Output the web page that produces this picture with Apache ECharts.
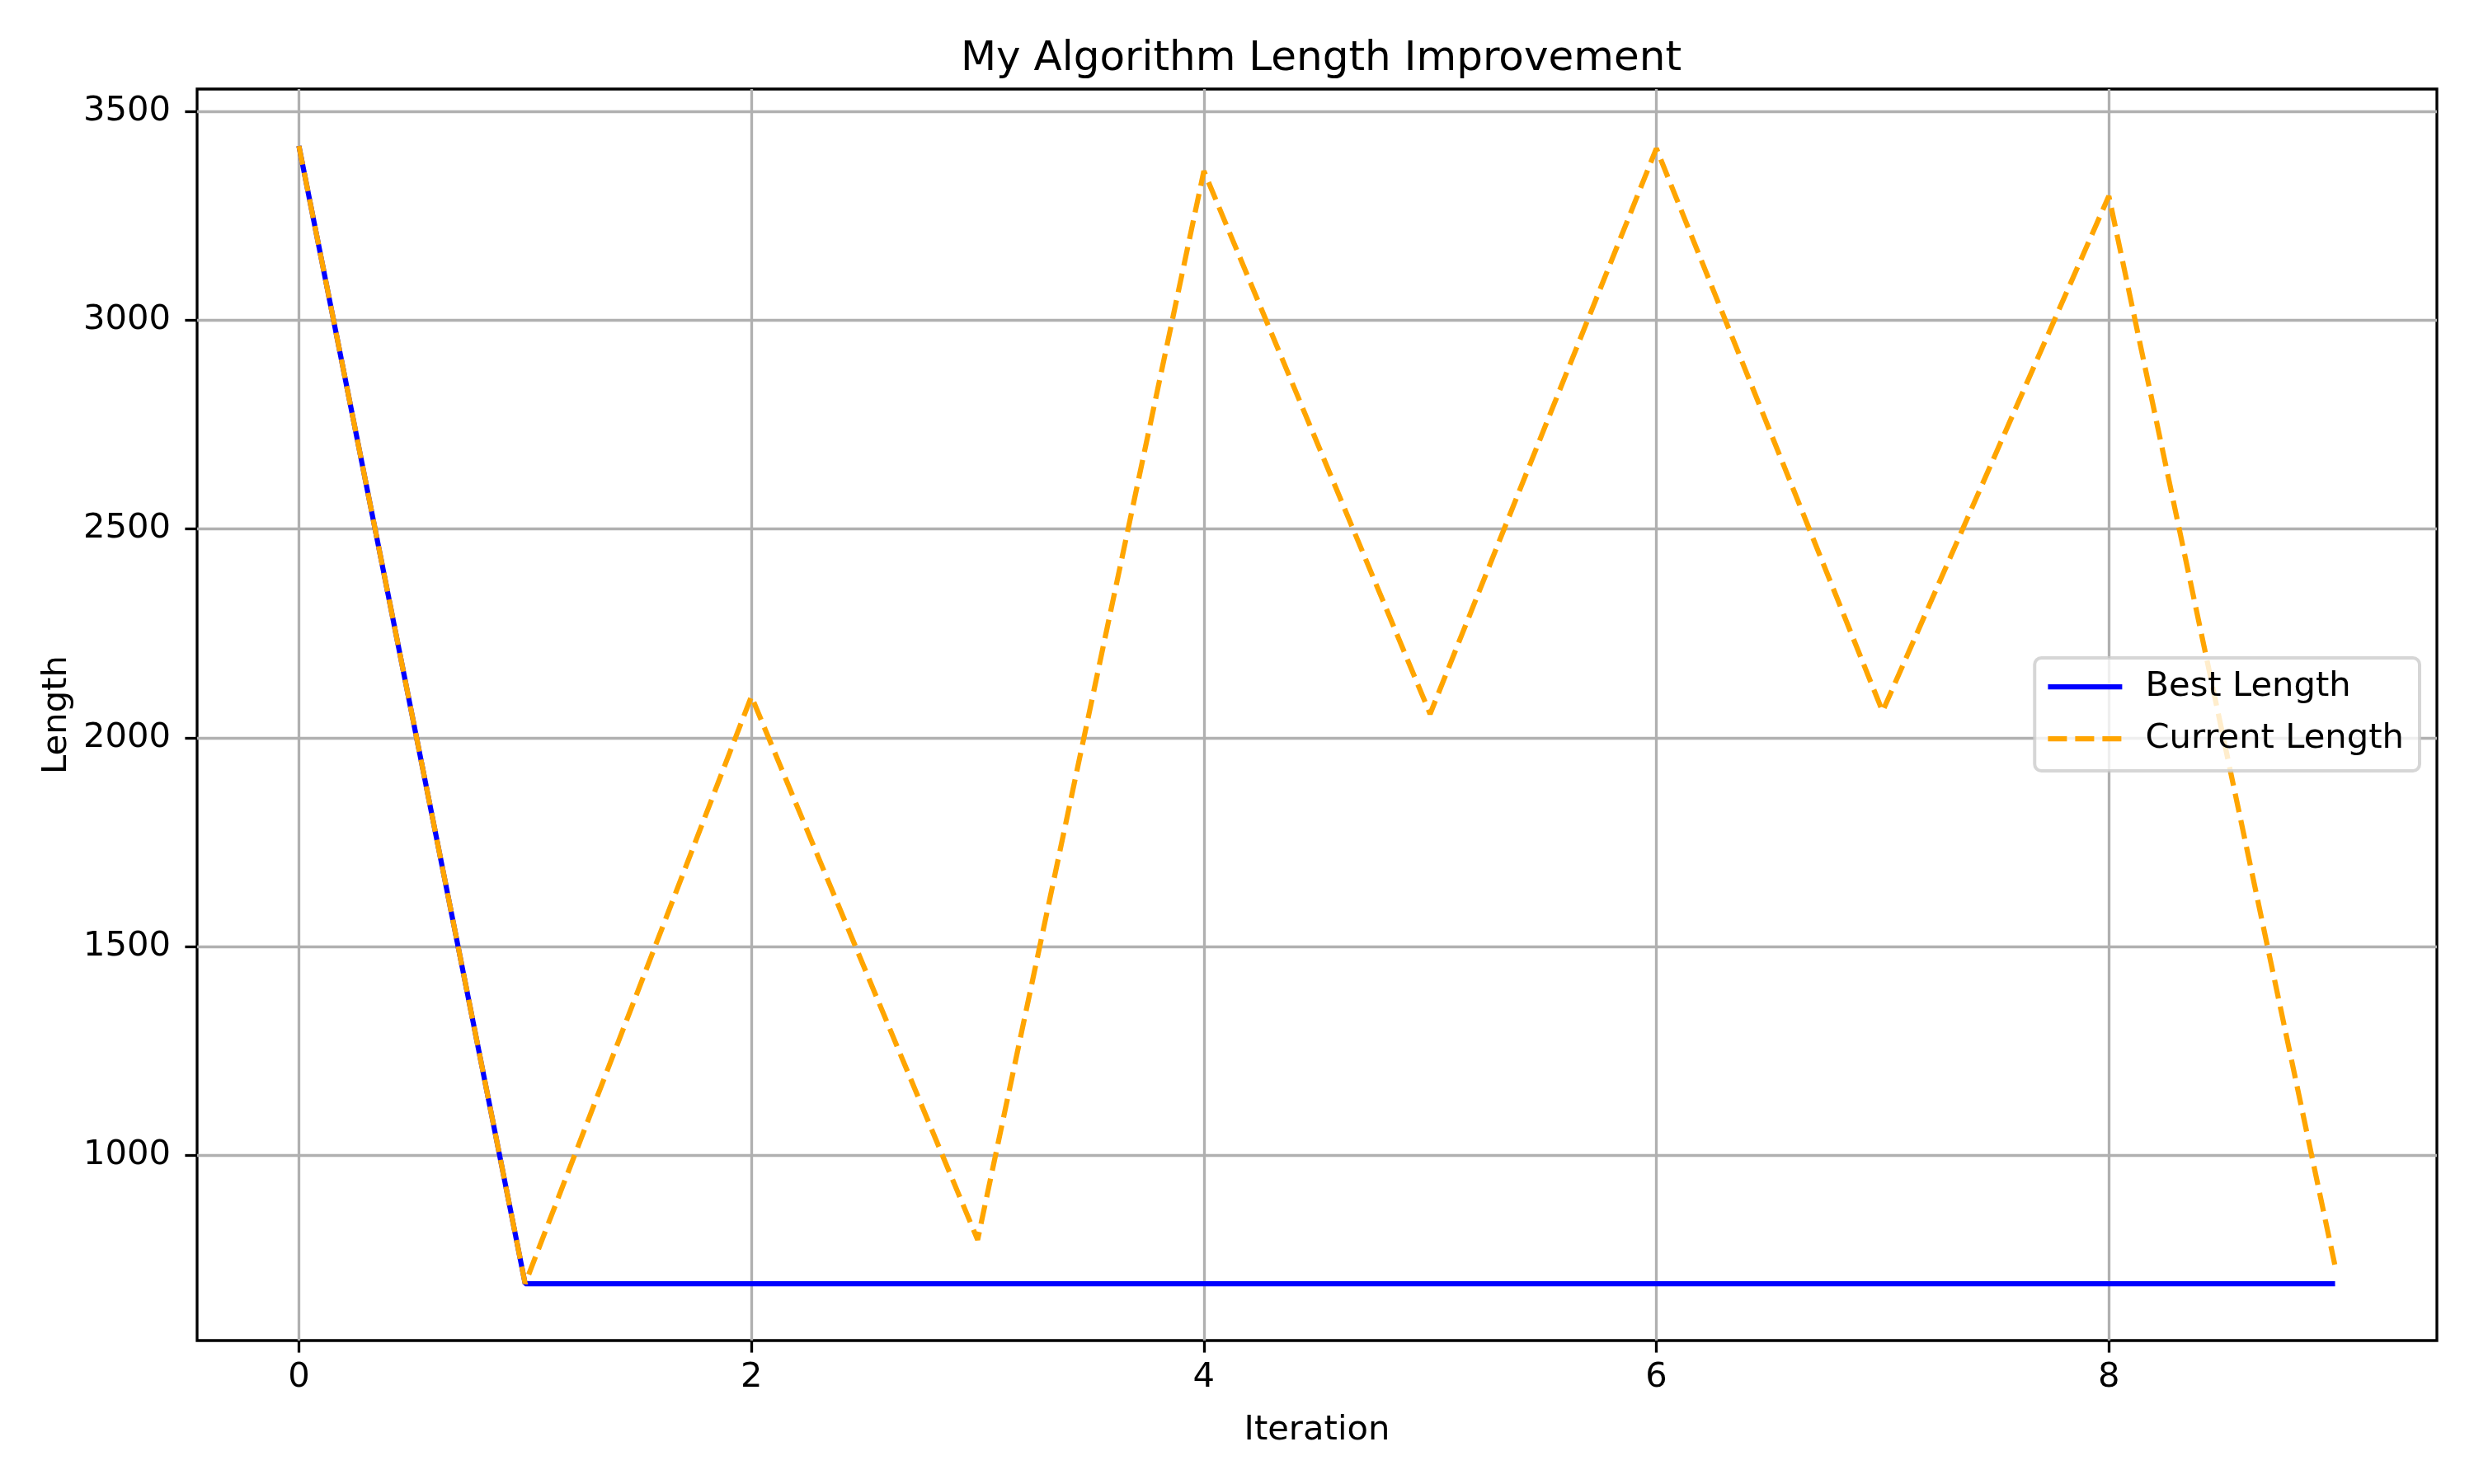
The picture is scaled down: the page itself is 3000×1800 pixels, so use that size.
<!DOCTYPE html>
<html style="height: 100%">

<head>
  <meta charset="UTF-8">
  <title>ECharts</title>
  <script src="https://cdn.jsdelivr.net/npm/echarts/dist/echarts.min.js"></script>
</head>

<body style="height: 1800px; width: 3000px; margin: 0; background-color: #ffffff;">
  <div id="main" style="width: 3000px; height: 1800px;"></div>
  <script type="text/javascript">
    // data
    var iterations = [0, 1, 2, 3, 4, 5, 6, 7, 8, 9];
    var bestLength = [3417, 693, 693, 693, 693, 693, 693, 693, 693, 693];
    var currentLength = [3417, 693, 2099, 798, 3357, 2057, 3411, 2063, 3297, 735];
    var xTicks = [0, 2, 4, 6, 8];
    var yTicks = [1000, 1500, 2000, 2500, 3000, 3500];

    var font = 'DejaVu Sans';
    var grey = '#b0b0b0';

    function pairs(ys) {
      return iterations.map(function (x, i) { return [x, ys[i]]; });
    }

    // matplotlib style 5% margins
    var allY = bestLength.concat(currentLength);
    var yLo = Math.min.apply(null, allY), yHi = Math.max.apply(null, allY);
    var yPad = (yHi - yLo) * 0.05;
    var xPad = (iterations[iterations.length - 1] - iterations[0]) * 0.05;

    var myChart = echarts.init(document.getElementById('main'));

    var option = {
      backgroundColor: '#ffffff',
      animation: false,
      title: {
        text: 'My Algorithm Length Improvement',
        left: 1597,
        textAlign: 'center',
        top: 42,
        textStyle: { fontFamily: font, fontSize: 50, fontWeight: 'normal', color: '#000' }
      },
      legend: {
        orient: 'vertical',
        right: 66,
        top: 798,
        data: ['Best Length', 'Current Length'],
        itemWidth: 90,
        itemHeight: 14,
        itemGap: 15,
        padding: [11, 19, 15, 13],
        backgroundColor: 'rgba(255,255,255,0.8)',
        borderColor: 'rgba(204,204,204,0.8)',
        borderWidth: 4,
        borderRadius: 8,
        itemStyle: { opacity: 0, borderWidth: 0 },
        lineStyle: { width: 6.25 },
        textStyle: { fontFamily: font, fontSize: 41.7, color: '#000', lineHeight: 48, padding: [0, 0, 0, 23] }
      },
      grid: {
        left: 239,
        right: 45,
        top: 108,
        bottom: 174,
        show: true,
        borderColor: '#000',
        borderWidth: 3.3,
        backgroundColor: 'transparent'
      },
      xAxis: {
        type: 'value',
        min: iterations[0] - xPad,
        max: iterations[iterations.length - 1] + xPad,
        name: 'Iteration',
        nameLocation: 'middle',
        nameGap: 88,
        nameTextStyle: { fontFamily: font, fontSize: 41.7, color: '#000' },
        axisLine: { show: false, onZero: false },
        axisTick: {
          show: true, length: 14.6, inside: false, customValues: xTicks,
          lineStyle: { color: '#000', width: 3.3 }
        },
        axisLabel: {
          customValues: xTicks, margin: 24,
          fontFamily: font, fontSize: 41.7, color: '#000',
          formatter: function (v) { return String(v); }
        },
        splitLine: { show: true, lineStyle: { color: grey, width: 3.3 } }
      },
      yAxis: {
        type: 'value',
        min: yLo - yPad,
        max: yHi + yPad,
        name: 'Length',
        nameLocation: 'middle',
        nameGap: 137,
        nameTextStyle: { fontFamily: font, fontSize: 41.7, color: '#000' },
        axisLine: { show: false, onZero: false },
        axisTick: {
          show: true, length: 14.6, inside: false, customValues: yTicks,
          lineStyle: { color: '#000', width: 3.3 }
        },
        axisLabel: {
          customValues: yTicks, margin: 32,
          fontFamily: font, fontSize: 41.7, color: '#000',
          formatter: function (v) { return String(v); }
        },
        splitLine: { show: true, lineStyle: { color: grey, width: 3.3 } }
      },
      series: [
        {
          name: 'Best Length',
          type: 'line',
          data: pairs(bestLength),
          symbol: 'none',
          lineStyle: { color: '#0000ff', width: 6.25 },
          itemStyle: { color: '#0000ff' },
          z: 2
        },
        {
          name: 'Current Length',
          type: 'line',
          data: pairs(currentLength),
          symbol: 'none',
          lineStyle: { color: '#ffa500', width: 6.25, type: [23, 10] },
          itemStyle: { color: '#ffa500' },
          z: 3
        }
      ]
    };

    myChart.setOption(option);
  </script>
</body>

</html>
